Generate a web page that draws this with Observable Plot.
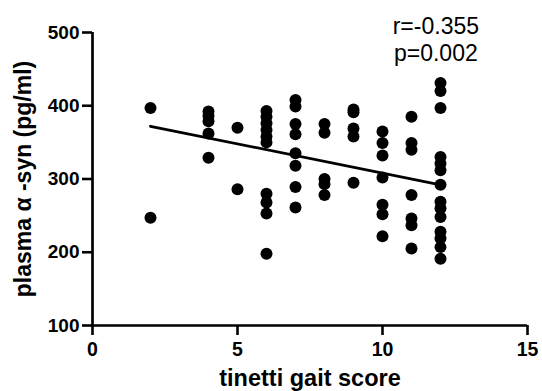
<!DOCTYPE html>
<html>
<head>
<meta charset="utf-8">
<script src="https://cdn.jsdelivr.net/npm/d3@7"></script>
<script src="https://cdn.jsdelivr.net/npm/@observablehq/plot@0.6"></script>
<style>
  html, body { margin: 0; padding: 0; background: #fff; }
</style>
</head>
<body>
<div id="chart"></div>
<script>
// Tinetti gait score (x) and plasma alpha-synuclein (y)
const gaitScore = [
  2, 2,
  4, 4, 4, 4, 4,
  5, 5,
  6, 6, 6, 6, 6, 6, 6, 6, 6, 6,
  7, 7, 7, 7, 7, 7, 7, 7,
  8, 8, 8, 8, 8,
  9, 9, 9, 9, 9,
  10, 10, 10, 10, 10, 10, 10,
  11, 11, 11, 11, 11, 11, 11,
  12, 12, 12, 12, 12, 12, 12, 12, 12, 12, 12, 12, 12, 12
];
const plasmaSyn = [
  397, 247,
  392, 386, 379, 362, 329,
  370, 286,
  393, 385, 376, 367, 358, 350, 280, 268, 253, 198,
  408, 399, 375, 361, 335, 318, 289, 261,
  375, 363, 300, 293, 278,
  395, 391, 369, 358, 295,
  365, 349, 332, 302, 265, 252, 222,
  385, 349, 340, 278, 246, 237, 205,
  431, 420, 397, 330, 321, 312, 292, 269, 260, 248, 228, 219, 207, 191
];
// Fitted regression line end points
const fitX = [2, 12];
const fitY = [372, 292];
// Tick values and labels
const xTicks = [0, 5, 10, 15];
const yTicks = [100, 200, 300, 400, 500];
const statLines = ["r=-0.355", "p=0.002"];
const xTitle = "tinetti gait score";
const yTitle = "plasma α -syn (pg/ml)";

const points = gaitScore.map((g, i) => ({x: g, y: plasmaSyn[i]}));
const fit = fitX.map((g, i) => ({x: g, y: fitY[i]}));

const font = "'Liberation Sans', Arial, Helvetica, sans-serif";

const chart = Plot.plot({
  width: 542,
  height: 391,
  marginLeft: 92,
  marginRight: 15,
  marginTop: 32,
  marginBottom: 66,
  style: {fontFamily: font, color: "black", background: "white"},
  x: {domain: [0, 15], axis: null},
  y: {domain: [100, 500], axis: null},
  marks: [
    Plot.axisX({
      ticks: xTicks, tickSize: 10, tickPadding: 7, fontSize: 19.5, fontWeight: "bold",
      strokeWidth: 2.6, label: null, tickFormat: d => String(d)
    }),
    Plot.axisY({
      ticks: yTicks, tickSize: 10, tickPadding: 3, fontSize: 19, fontWeight: "bold",
      strokeWidth: 2.6, label: null, tickFormat: d => String(d)
    }),
    Plot.ruleY([100], {stroke: "black", strokeWidth: 2.7}),
    Plot.ruleX([0], {stroke: "black", strokeWidth: 2.7}),
    Plot.line(fit, {x: "x", y: "y", stroke: "black", strokeWidth: 2.8}),
    Plot.dot(points, {x: "x", y: "y", r: 6, fill: "black", stroke: null}),
    Plot.text([statLines.join("\n")], {
      x: 11.84, frameAnchor: "top", dy: 6, lineAnchor: "middle",
      lineHeight: 1.17, fontSize: 23, textAnchor: "middle", fill: "black"
    }),
    Plot.text([xTitle], {
      frameAnchor: "bottom", dy: 53, lineAnchor: "middle", textAnchor: "middle",
      fontSize: 23.5, fontWeight: "bold", fill: "black"
    }),
    Plot.text([yTitle], {
      frameAnchor: "left", dx: -69, rotate: -90, lineAnchor: "middle", textAnchor: "middle",
      fontSize: 23, fontWeight: "bold", fill: "black"
    })
  ]
});
document.getElementById("chart").appendChild(chart);
</script>
</body>
</html>
